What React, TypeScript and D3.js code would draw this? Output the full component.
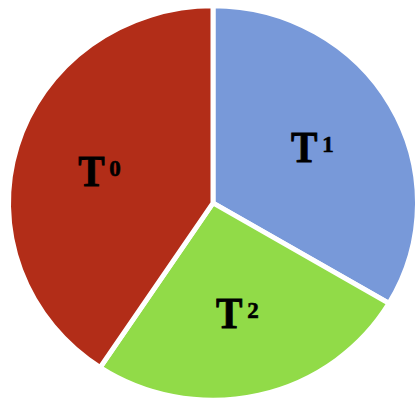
import React from "react";
import * as d3 from "d3";

// Slices listed clockwise from 12 o'clock
const exponents = ["1", "2", "0"];
const shares = [33.5, 25.8, 40.7];
const colors = ["#7899D9", "#91DB48", "#B22D18"];

const WIDTH = 415;
const HEIGHT = 398;

export default function App() {
  const cx = 213;
  const cy = 203;
  const radius = 204.5;
  const squash = 0.964;
  const labelRadius = radius * 0.57;

  const pie = d3.pie<number>().sort(null).value((d) => d);
  const arcs = pie(shares);
  const arc = d3.arc<d3.PieArcDatum<number>>().innerRadius(0).outerRadius(radius);

  return (
    <svg
      width={WIDTH}
      height={HEIGHT}
      style={{ position: "absolute", left: 0, top: 0, background: "#ffffff" }}
    >
      <g transform={`translate(${cx},${cy}) scale(1,${squash})`}>
        {arcs.map((a, i) => (
          <path
            key={i}
            d={arc(a) ?? ""}
            fill={colors[i]}
            stroke="#ffffff"
            strokeWidth={5}
            strokeLinejoin="miter"
          />
        ))}
      </g>
      {arcs.map((a, i) => {
        const mid = (a.startAngle + a.endAngle) / 2;
        const x = cx + labelRadius * Math.sin(mid);
        const y = cy - labelRadius * Math.cos(mid) * squash;
        return (
          <g
            key={i}
            transform={`translate(${x},${y})`}
            fontFamily="'Liberation Serif', 'Times New Roman', serif"
            fontWeight="bold"
            fill="#000"
            stroke="#000"
          >
            <text
              x={0}
              y={0}
              textAnchor="middle"
              fontSize={45}
              strokeWidth={0.9}
              transform="translate(-10,15) scale(0.88,1)"
            >
              T
            </text>
            <text x={8} y={5} fontSize={23} strokeWidth={0.6} textAnchor="start">
              {exponents[i]}
            </text>
          </g>
        );
      })}
    </svg>
  );
}
